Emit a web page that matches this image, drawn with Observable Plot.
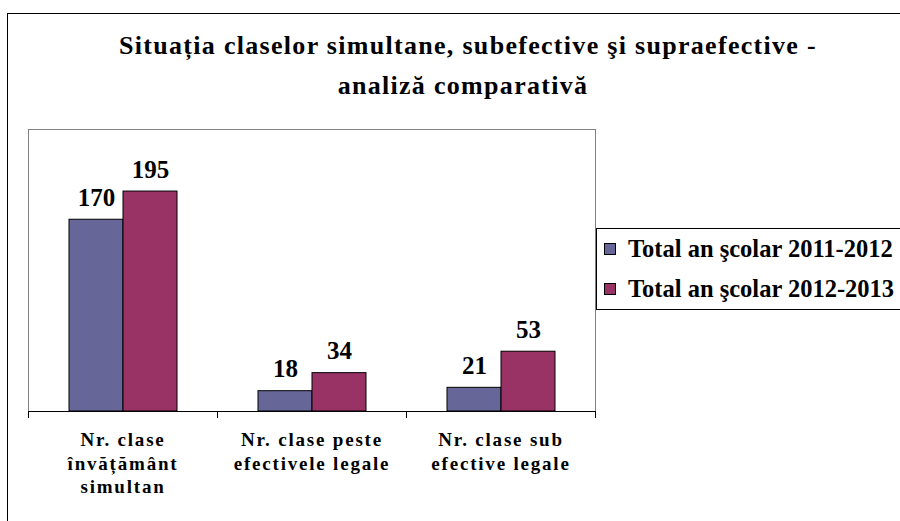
<!DOCTYPE html>
<html>
<head>
<meta charset="utf-8">
<script src="https://cdn.jsdelivr.net/npm/d3@7"></script>
<script src="https://cdn.jsdelivr.net/npm/@observablehq/plot@0.6"></script>
<style>
  html, body { margin: 0; padding: 0; background: #fff; }
  #wrap { position: relative; width: 900px; height: 521px; overflow: hidden; background: #fff; font-family: "Liberation Serif", "Times New Roman", serif; }
  #wrap svg { position: absolute; left: 0; top: 0; background: transparent; }
  #border { position: absolute; left: 7px; top: 13px; width: 1000px; height: 1000px; border-left: 1px solid #000; border-top: 1px solid #000; pointer-events: none; }
  #title { position: absolute; left: 7px; width: 912px; top: 26px; text-align: center; font-weight: bold; font-size: 26px; line-height: 40px; letter-spacing: 1.3px; color: #000; }
  #title .l1 { position: relative; left: 5px; }
  #legend { position: absolute; left: 596px; top: 228px; width: 400px; height: 80px; border-left: 1px solid #000; border-top: 1px solid #000; border-bottom: 1px solid #000; }
  .item { position: absolute; left: 0; height: 30px; display: flex; align-items: center; font-weight: bold; font-size: 24.5px; white-space: nowrap; }
  .sw { width: 10px; height: 10px; border: 1px solid #000; margin-left: 7px; margin-right: 12px; }
  .chart g[aria-label="fx-axis tick label"] text { letter-spacing: 1.8px; }
</style>
</head>
<body>
<div id="wrap">
  <div id="title"></div>
  <div id="legend"></div>
  <div id="border"></div>
</div>
<script>
const titleLines = ["Situația claselor simultane, subefective şi supraefective -", "analiză comparativă"];
const categories = ["Nr. clase\nînvățământ\nsimultan", "Nr. clase peste\nefectivele legale", "Nr. clase sub\nefective legale"];
const series = ["Total an şcolar 2011-2012", "Total an şcolar 2012-2013"];
const values2011 = [170, 18, 21];
const values2012 = [195, 34, 53];
const colors = ["#666699", "#993366"];

const data = [];
categories.forEach((c, i) => {
  data.push({category: c, series: series[0], value: values2011[i]});
  data.push({category: c, series: series[1], value: values2012[i]});
});

document.getElementById("title").innerHTML = `<span class="l1">${titleLines[0]}</span><br>${titleLines[1]}`;
const legend = document.getElementById("legend");
series.forEach((s, i) => {
  const d = document.createElement("div");
  d.className = "item";
  d.style.top = (5 + i * 40) + "px";
  d.innerHTML = `<span class="sw" style="background:${colors[i]}"></span><span>${s}</span>`;
  legend.appendChild(d);
});

const chart = Plot.plot({
  className: "chart",
  width: 900,
  height: 521,
  marginLeft: 27,
  marginRight: 304,
  marginTop: 129,
  marginBottom: 110,
  style: {background: "transparent", fontFamily: "Liberation Serif, Times New Roman, serif", color: "#000"},
  fx: {domain: categories, padding: 0, label: null},
  x: {domain: series, paddingInner: 0, paddingOuter: 0.7245, axis: null},
  y: {domain: [0, 250], axis: null},
  color: {domain: series, range: colors},
  marks: [
    Plot.frame({facet: "super", stroke: "#808080"}),
    Plot.barY(data, {fx: "category", x: "series", y: "value", fill: "series", stroke: "#000", strokeWidth: 1}),
    Plot.text(data, {fx: "category", x: "series", y: "value", text: d => String(d.value), lineAnchor: "bottom", dy: -14, fontSize: 25, fontWeight: "bold", fill: "#000"}),
    Plot.ruleY([0], {stroke: "#000", strokeWidth: 1}),
    Plot.frame({anchor: "left", insetTop: 282, insetBottom: -6, stroke: "#000"}),
    Plot.frame({anchor: "right", insetTop: 282, insetBottom: -6, stroke: "#000"}),
    Plot.axisFx({anchor: "bottom", tickSize: 0, tickPadding: 18, fontSize: 19, fontWeight: "bold", lineHeight: 1.24, label: null, fill: "#000"})
  ]
});
document.getElementById("wrap").insertBefore(chart, document.getElementById("title"));
</script>
</body>
</html>
